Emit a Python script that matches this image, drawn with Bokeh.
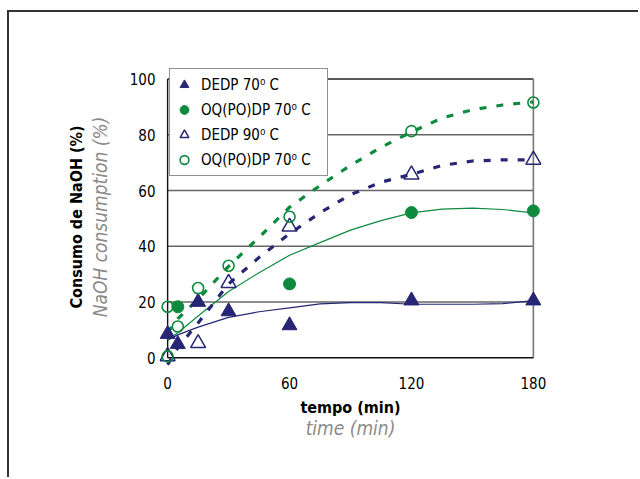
import subprocess
from bokeh.plotting import figure
from bokeh.models import LinearAxis, FixedTicker, Range1d, Legend
from bokeh.embed import file_html
from bokeh.resources import INLINE

# ---- data ----
x_ticks = [0, 60, 120, 180]
y_ticks = [0, 20, 40, 60, 80, 100]
grid_vals = [20, 40, 60, 80]

dedp70_t = [0, 5, 15, 30, 60, 120, 180]
dedp70_y = [8.5, 4.9, 20.0, 16.6, 11.6, 20.5, 20.5]

oqpo70_t = [5, 60, 120, 180]
oqpo70_y = [18.3, 26.5, 52.1, 52.7]

dedp90_t = [0, 15, 30, 60, 120, 180]
dedp90_y = [0.5, 5.2, 26.8, 47.0, 65.7, 71.0]

oqpo70b_t = [0, 0, 5, 15, 30, 60, 120, 180]
oqpo70b_y = [0.5, 18.3, 11.2, 25.0, 33.0, 50.6, 81.3, 91.6]

fit_t = [0, 5, 15, 30, 45, 60, 75, 90, 105, 120, 135, 150, 165, 180]
dedp70_fit = [6.3, 8.2, 11.0, 14.5, 16.5, 17.9, 19.3, 19.8, 19.8, 19.2, 19.2, 19.2, 19.4, 20.5]
oqpo70_fit = [6.4, 9.0, 15.0, 23.8, 30.5, 36.8, 41.3, 45.8, 49.2, 52.0, 53.3, 53.7, 53.2, 52.0]
dedp90_fit = [-2.5, 3.5, 12.5, 26.5, 36.0, 44.5, 52.0, 58.5, 63.0, 65.8, 69.0, 70.6, 71.0, 71.0]
oqpo70b_fit = [9.0, 14.0, 21.0, 32.8, 43.2, 54.0, 61.8, 69.0, 75.5, 81.0, 86.0, 89.0, 90.7, 91.8]

legend_labels = ["DEDP 70⁰ C", "OQ(PO)DP 70⁰ C", "DEDP 90⁰ C", "OQ(PO)DP 70⁰ C"]

NAVY = "#262675"
GREEN = "#0e8a3e"

# pick a condensed font if one is installed
try:
    fams = subprocess.run(["fc-list", ":", "family"], capture_output=True,
                          text=True, timeout=10).stdout
except Exception:
    fams = ""
if "Liberation Sans Narrow" in fams:
    FONT = "Liberation Sans Narrow"
    SZ = dict(tick="17px", bold="20px", ital="23px", leg="17px")
elif "DejaVu Sans Condensed" in fams:
    FONT = "DejaVu Sans Condensed"
    SZ = dict(tick="15px", bold="16px", ital="19px", leg="15px")
else:
    FONT = "Liberation Sans"
    SZ = dict(tick="15px", bold="17px", ital="19px", leg="14px")

p = figure(width=631, height=467,
           min_border_left=150, min_border_right=99,
           min_border_top=54, min_border_bottom=112,
           x_range=Range1d(-4, 184), y_range=Range1d(-3.5, 104.5),
           output_backend="svg", toolbar_location=None,
           styles={"margin-left": "7px", "margin-top": "10px",
                   "border-left": "2px solid #333333",
                   "border-top": "2px solid #333333"})
p.outline_line_color = None
p.grid.grid_line_color = None
p.background_fill_color = "white"

# grid + frame lines
p.segment(x0=x_ticks[0], x1=x_ticks[-1], y0=grid_vals, y1=grid_vals,
          line_color="#666666", line_width=1.6)
p.segment(x0=x_ticks[0], x1=x_ticks[-1], y0=y_ticks[-1], y1=y_ticks[-1],
          line_color="#222222", line_width=1.4)
p.segment(x0=x_ticks[-1], x1=x_ticks[-1], y0=y_ticks[0], y1=y_ticks[-1],
          line_color="#777777", line_width=1.6)
p.segment(x0=x_ticks[0], x1=x_ticks[-1], y0=y_ticks[0], y1=y_ticks[0],
          line_color="#111111", line_width=1.4)
p.segment(x0=x_ticks[0], x1=x_ticks[0], y0=y_ticks[0], y1=y_ticks[-1],
          line_color="#111111", line_width=1.4)

# trend lines
p.line(fit_t, dedp70_fit, line_color=NAVY, line_width=1.2)
p.line(fit_t, oqpo70_fit, line_color=GREEN, line_width=1.2)
p.line(fit_t, dedp90_fit, line_color=NAVY, line_width=3.2, line_dash="7 10")
p.line(fit_t, oqpo70b_fit, line_color=GREEN, line_width=3.2, line_dash="7 10")

# markers
r1 = p.scatter(dedp70_t, dedp70_y, marker="triangle", size=15,
               fill_color=NAVY, line_color=NAVY)
r2 = p.scatter(oqpo70_t, oqpo70_y, marker="circle", size=12,
               fill_color=GREEN, line_color=GREEN)
r3 = p.scatter(dedp90_t, dedp90_y, marker="triangle", size=15,
               fill_color="white", fill_alpha=0, line_color=NAVY, line_width=1.5)
r4 = p.scatter(oqpo70b_t, oqpo70b_y, marker="circle", size=11,
               fill_color="white", fill_alpha=0, line_color=GREEN, line_width=1.6)

legend = Legend(items=[(legend_labels[0], [r1]), (legend_labels[1], [r2]),
                       (legend_labels[2], [r3]), (legend_labels[3], [r4])],
                location=(10, 191))
legend.border_line_color = "#222222"
legend.border_line_width = 1.2
legend.background_fill_color = "white"
legend.background_fill_alpha = 1
legend.padding = 3
legend.spacing = 0
legend.label_height = 25
legend.glyph_height = 25
legend.glyph_width = 22
legend.label_width = 123
legend.label_standoff = 6
legend.margin = 0
legend.label_text_font = FONT
legend.label_text_font_size = SZ["leg"]
legend.label_text_color = "black"
p.add_layout(legend, "center")

# axes
xa = p.xaxis[0]
xa.ticker = FixedTicker(ticks=x_ticks)
ya = p.yaxis[0]
ya.ticker = FixedTicker(ticks=y_ticks)
for ax in (xa, ya):
    ax.axis_line_color = None
    ax.major_tick_line_color = None
    ax.minor_tick_line_color = None
    ax.major_tick_out = 0
    ax.major_tick_in = 0
    ax.major_label_text_font = FONT
    ax.major_label_text_font_size = SZ["tick"]
    ax.major_label_text_color = "black"

xa.major_label_standoff = 9
ya.major_label_standoff = 4

xa.axis_label = "tempo (min)"
xa.axis_label_text_font = FONT
xa.axis_label_text_font_style = "bold"
xa.axis_label_text_font_size = SZ["bold"]
xa.axis_label_text_color = "black"
xa.axis_label_standoff = 6

ya.axis_label = "NaOH consumption (%)"
ya.axis_label_text_font = FONT
ya.axis_label_text_font_style = "italic"
ya.axis_label_text_font_size = SZ["ital"]
ya.axis_label_text_color = "#8a8a8a"
ya.axis_label_standoff = 16

xb = LinearAxis(ticker=FixedTicker(ticks=[]), axis_label="time (min)")
ya2 = LinearAxis(ticker=FixedTicker(ticks=[]), axis_label="Consumo de NaOH (%)")
for ax in (xb, ya2):
    ax.axis_line_color = None
    ax.major_tick_line_color = None
    ax.minor_tick_line_color = None
    ax.axis_label_text_font = FONT
xb.axis_label_text_font_style = "italic"
xb.axis_label_text_font_size = SZ["ital"]
xb.axis_label_text_color = "#8a8a8a"
xb.axis_label_standoff = -3
ya2.axis_label_text_font_style = "bold"
ya2.axis_label_text_font_size = SZ["bold"]
ya2.axis_label_text_color = "black"
ya2.axis_label_standoff = 0
p.add_layout(xb, "below")
p.add_layout(ya2, "left")

open("out.html", "w").write(file_html(p, INLINE))
